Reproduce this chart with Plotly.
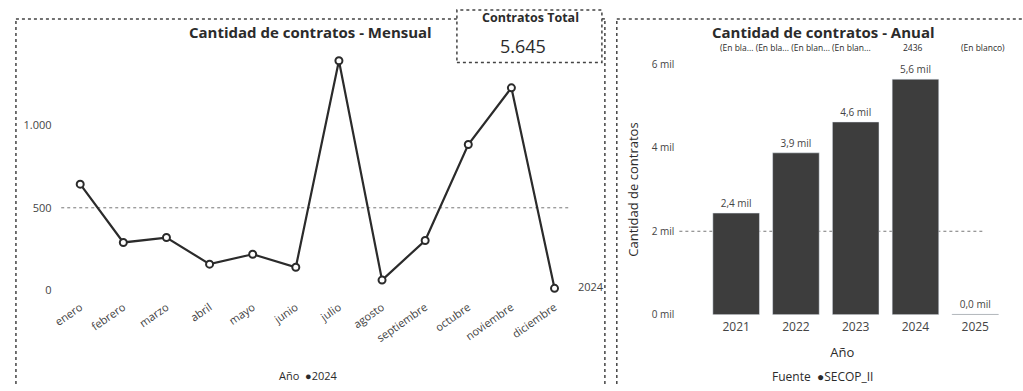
import plotly.graph_objects as go

months = ["enero", "febrero", "marzo", "abril", "mayo", "junio", "julio",
          "agosto", "septiembre", "octubre", "noviembre", "diciembre"]
monthly_2024 = [644, 289, 319, 157, 217, 138, 1395, 60, 301, 885, 1230, 10]
total_contratos = "5.645"

years = ["2021", "2022", "2023", "2024", "2025"]
annual = [2436, 3880, 4620, 5645, 15]

W, H = 1023, 391
FONT = "Open Sans"
DARK = "#2b2b2b"
GRAY = "#444444"

# the photographed page maps paper y to 5 + 0.972*y; compensate
Y_OFF, Y_SCALE = 5.0, 0.972

def px(x):
    return x / W

def py(y):
    return 1 - ((y - Y_OFF) / Y_SCALE) / H

fig = go.Figure()

fig.add_trace(go.Scatter(
    x=months, y=monthly_2024, mode="lines+markers",
    line=dict(color=DARK, width=2.2),
    marker=dict(symbol="circle", size=7, color="white", line=dict(color=DARK, width=2)),
    xaxis="x", yaxis="y", cliponaxis=False, showlegend=False,
))

bar_text = [f"{v/1000:.1f}".replace(".", ",") + " mil" for v in annual]
fig.add_trace(go.Bar(
    x=years, y=annual, width=0.78,
    marker=dict(color="#3d3d3d"),
    text=bar_text, textposition="outside", cliponaxis=False,
    textfont=dict(size=10, color=GRAY, family=FONT),
    xaxis="x2", yaxis="y2", showlegend=False,
))

fig.update_layout(
    width=W, height=H, margin=dict(l=0, r=0, t=0, b=0),
    paper_bgcolor="white", plot_bgcolor="white",
    font=dict(family=FONT, color=GRAY, size=10),
    separators=",.",
    xaxis=dict(domain=[px(52), px(573)], range=[-0.5, 11.5], type="category",
               anchor="y", tickangle=-35, showgrid=False, zeroline=False, showline=False,
               ticks="", ticklabelstandoff=8, tickfont=dict(size=11, color=GRAY)),
    yaxis=dict(domain=[py(290), py(40)], range=[0, 1505], anchor="x", tickvals=[0, 500, 1000],
               ticktext=["0", "500", "1.000"], showgrid=False, zeroline=False,
               showline=False, ticks="", ticklabelstandoff=6,
               tickfont=dict(size=11, color=GRAY)),
    xaxis2=dict(domain=[px(677), px(1005)], range=[-0.95, 4.5], type="category",
                anchor="y2", showgrid=False, zeroline=False, showline=False, ticks="",
                ticklabelstandoff=3,
                tickfont=dict(size=12, color=GRAY),
                title=dict(text="Año", font=dict(size=13, color=DARK), standoff=14)),
    yaxis2=dict(domain=[py(315), py(62)], range=[0, 6000], anchor="x2",
                tickvals=[0, 2000, 4000, 6000],
                ticktext=["0 mil", "2 mil", "4 mil", "6 mil"],
                showgrid=False, zeroline=False, showline=False, ticks="",
                ticklabelstandoff=4,
                tickfont=dict(size=10, color=GRAY),
                title=dict(text="Cantidad de contratos", font=dict(size=13, color=DARK), standoff=10)),
    bargap=0.2,
)

shapes = []
# gridlines
shapes.append(dict(type="line", xref="x domain", yref="y", x0=0.005, x1=0.99, y0=500, y1=500,
                   line=dict(color="#777", width=1, dash="dot"), layer="below"))
shapes.append(dict(type="line", xref="x2 domain", yref="y2", x0=0.0, x1=0.93, y0=2000, y1=2000,
                   line=dict(color="#777", width=1, dash="dot"), layer="below"))
# panel borders
border = dict(color="#444", width=1.5, dash="dot")
top = py(16)
shapes.append(dict(type="line", xref="paper", yref="paper", x0=px(9), x1=px(9), y0=0, y1=top, line=border))
shapes.append(dict(type="line", xref="paper", yref="paper", x0=px(9), x1=px(453), y0=top, y1=top, line=border))
shapes.append(dict(type="line", xref="paper", yref="paper", x0=px(599), x1=px(602), y0=top, y1=top, line=border))
shapes.append(dict(type="line", xref="paper", yref="paper", x0=px(602), x1=px(602), y0=0, y1=top, line=border))
shapes.append(dict(type="line", xref="paper", yref="paper", x0=px(614), x1=px(614), y0=0, y1=top, line=border))
shapes.append(dict(type="line", xref="paper", yref="paper", x0=px(614), x1=1, y0=top, y1=top, line=border))
# card box
shapes.append(dict(type="rect", xref="paper", yref="paper", x0=px(453), x1=px(599), y0=py(60), y1=min(1, py(7)),
                   line=border, fillcolor="white"))
fig.update_layout(shapes=shapes)

def note(text, x, y, size, color=DARK, **kw):
    d = dict(text=text, x=x, y=y, xref="paper", yref="paper", showarrow=False,
             xanchor="center", yanchor="middle", font=dict(size=size, color=color))
    d.update(kw)
    return d

ann = [
    note("<b>Cantidad de contratos - Mensual</b>", px(306), py(29), 15),
    note("<b>Contratos Total</b>", px(527), py(15), 12.5),
    note(total_contratos, px(520), py(43), 18),
    dict(text="2024", x=months[-1], y=monthly_2024[-1], xref="x", yref="y", xshift=36, yshift=2,
         showarrow=False, xanchor="center", yanchor="middle", font=dict(size=11, color=GRAY)),
    note("Año  <span style='font-size:11px'>●</span>2024", px(304), py(376), 11),
    note("<b>Cantidad de contratos - Anual</b>", px(822), py(29), 15),
    note("(En bla... (En bla... (En blan... (En blan...", px(794), py(45), 8.5),
    note("2436", px(912), py(45), 8.5),
    note("(En blanco)", px(983), py(45), 8.5),
    note("Fuente  ●SECOP_II", px(821), py(377), 12),
]
fig.update_layout(annotations=ann)

fig.write_html(
    "out.html",
    config={"displayModeBar": False},
    post_script="document.documentElement.style.margin='0';document.documentElement.style.overflow='hidden';"
                "document.body.style.margin='0';document.body.style.overflow='hidden';",
)
